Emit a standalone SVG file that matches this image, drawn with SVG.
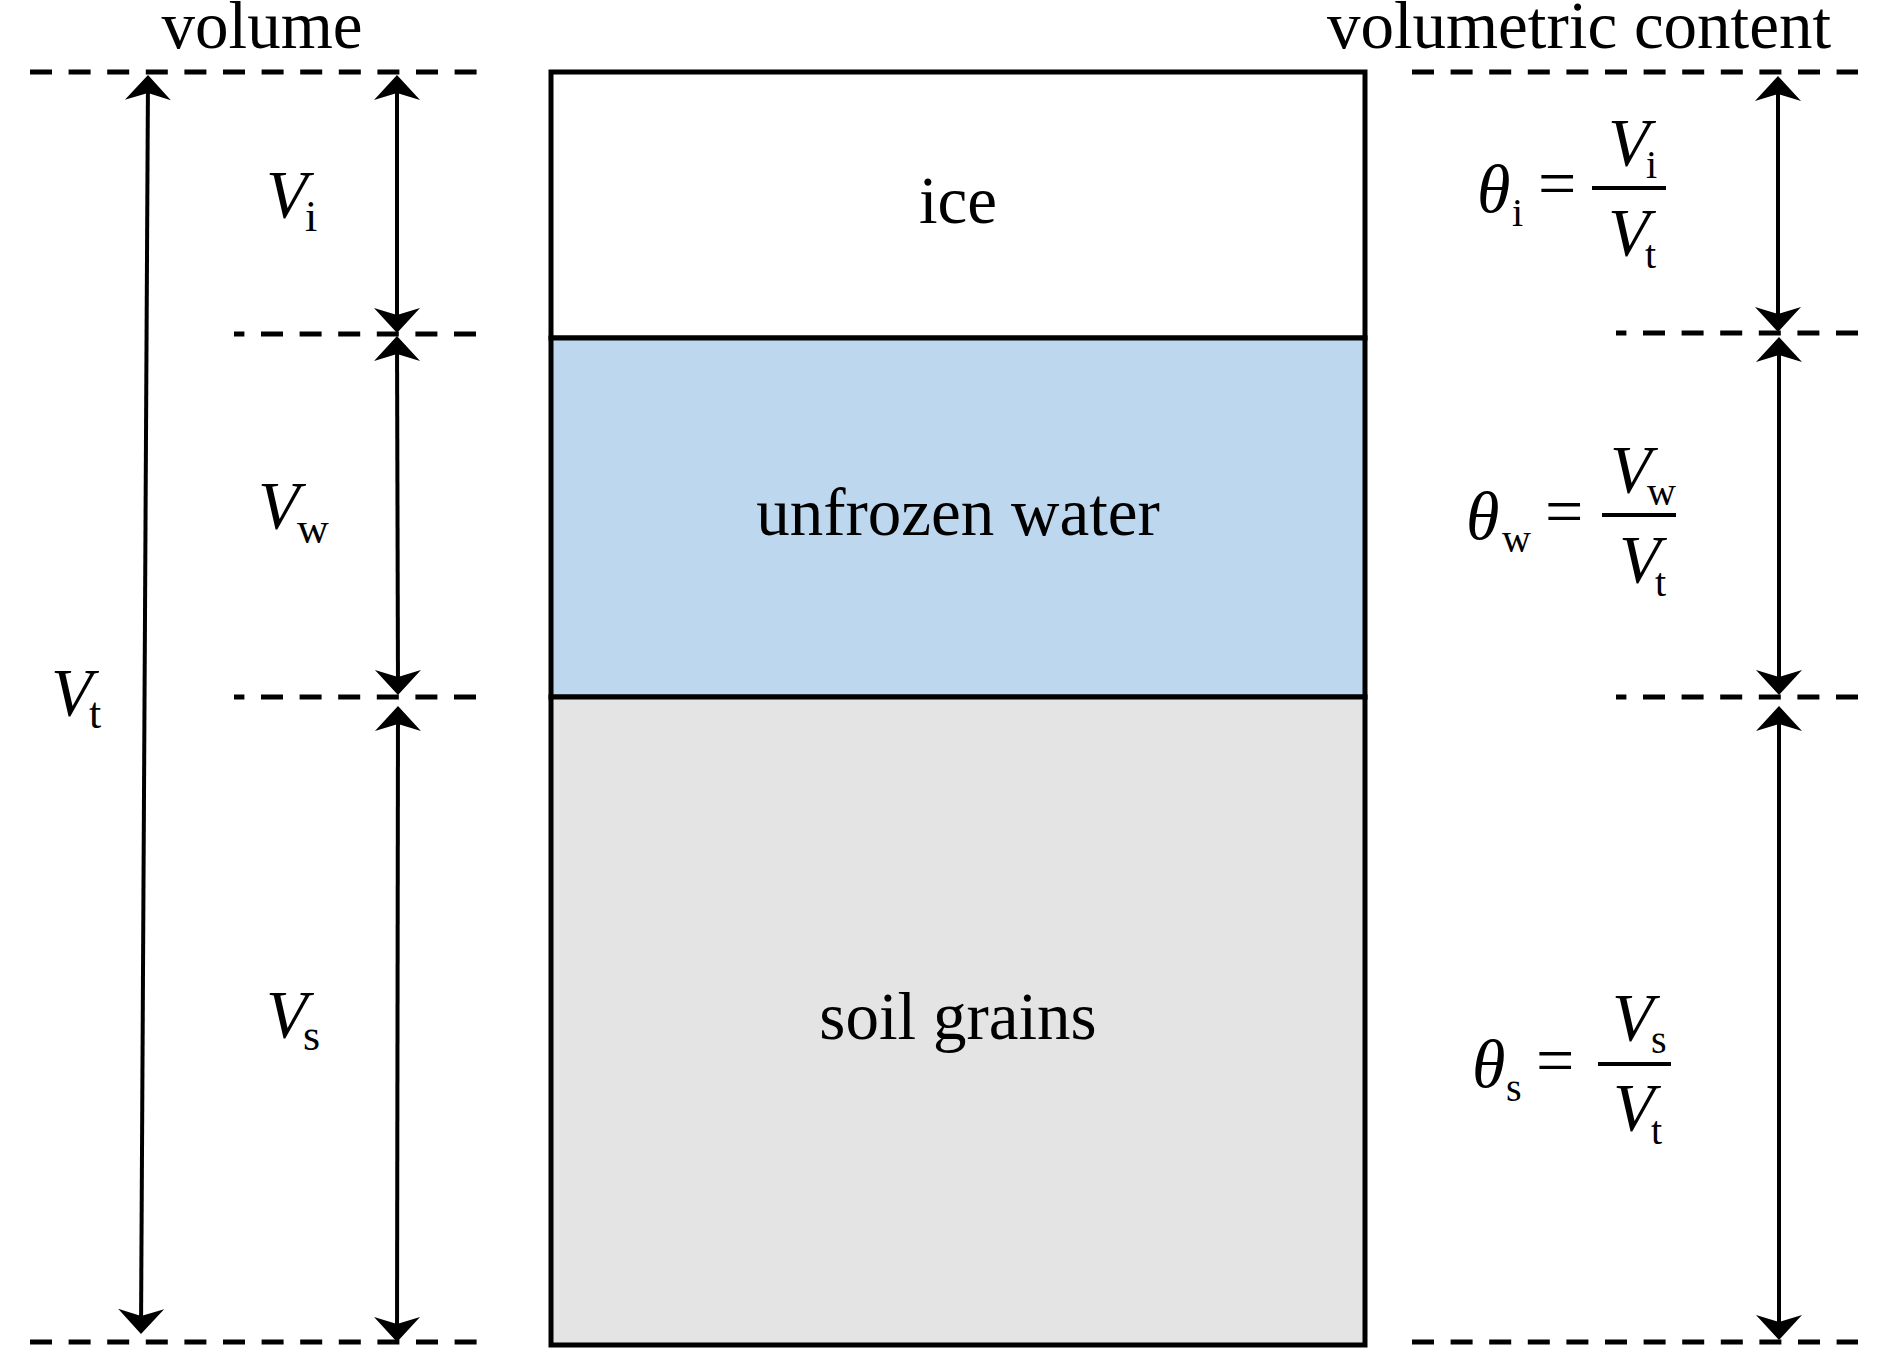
<svg xmlns="http://www.w3.org/2000/svg" width="1890" height="1348" viewBox="0 0 1890 1348">
<style>
.t{font-family:"Liberation Serif","Times New Roman",serif;fill:#000}
.lbl{font-size:67px}
.v{font-size:68px;font-style:italic}
.m{font-size:68px}
.sl{font-size:44px}
.sr{font-size:40px}
.dash{stroke:#000;stroke-width:5;stroke-dasharray:22 16.6;fill:none}
.dash2{stroke:#000;stroke-width:5;stroke-dasharray:22 16.6;stroke-dashoffset:11.6;fill:none}
.arr{stroke:#000;stroke-width:4;fill:none;marker-start:url(#ah);marker-end:url(#ah)}
.bar{stroke:#000;stroke-width:4}
</style>
<defs>
<marker id="ah" markerUnits="userSpaceOnUse" viewBox="-30 -30 60 60" markerWidth="60" markerHeight="60" refX="0" refY="0" orient="auto-start-reverse" overflow="visible">
<path d="M3,0 L-22,-23 L-15,0 L-22,23 Z" fill="#000"/>
</marker>
</defs>
<rect width="1890" height="1348" fill="#fff"/>

<g id="headers">
<text class="t lbl" x="262" y="48" text-anchor="middle">volume</text>
<text class="t lbl" x="1579" y="48" text-anchor="middle">volumetric content</text>
</g>

<g id="ice">
<rect x="551" y="72" width="814" height="266" fill="#ffffff" stroke="#000" stroke-width="5"/>
<text class="t lbl" x="958" y="223" text-anchor="middle">ice</text>
</g>
<g id="water">
<rect x="551" y="338" width="814" height="359" fill="#BDD7EE" stroke="#000" stroke-width="5"/>
<text class="t lbl" x="958" y="535" text-anchor="middle">unfrozen water</text>
</g>
<g id="soil">
<rect x="551" y="697" width="814" height="648" fill="#E4E4E4" stroke="#000" stroke-width="5"/>
<text class="t lbl" x="958" y="1039" text-anchor="middle">soil grains</text>
</g>

<g id="guides">
<line class="dash" x1="30" y1="72" x2="477" y2="72"/>
<line class="dash2" x1="234" y1="334" x2="477" y2="334"/>
<line class="dash2" x1="234" y1="697" x2="477" y2="697"/>
<line class="dash" x1="30" y1="1342" x2="477" y2="1342"/>
<line class="dash" x1="1412" y1="72" x2="1858" y2="72"/>
<line class="dash2" x1="1616" y1="333" x2="1858" y2="333"/>
<line class="dash2" x1="1616" y1="697" x2="1858" y2="697"/>
<line class="dash" x1="1412" y1="1342" x2="1858" y2="1342"/>
</g>

<g id="connectors">
<line class="arr" x1="148" y1="78" x2="141" y2="1331"/>
<line class="arr" x1="397" y1="78" x2="397" y2="330"/>
<line class="arr" x1="397" y1="339" x2="398" y2="692"/>
<line class="arr" x1="398" y1="709" x2="397" y2="1339"/>
<line class="arr" x1="1778" y1="79" x2="1778" y2="329"/>
<line class="arr" x1="1779" y1="340" x2="1779" y2="692"/>
<line class="arr" x1="1779" y1="709" x2="1779" y2="1337"/>
</g>

<g id="label-Vi">
<text class="t v" x="266" y="217">V</text>
<text class="t sl" x="305" y="231">i</text>
</g>
<g id="label-Vw">
<text class="t v" x="258" y="528">V</text>
<text class="t sl" x="297" y="543">w</text>
</g>
<g id="label-Vt">
<text class="t v" x="51" y="715">V</text>
<text class="t sl" x="89" y="728">t</text>
</g>
<g id="label-Vs">
<text class="t v" x="266" y="1037">V</text>
<text class="t sl" x="303" y="1050">s</text>
</g>

<g id="formula-i">
<text class="t v" x="1477" y="212">θ</text>
<text class="t sr" x="1512" y="226">i</text>
<text class="t m" x="1538" y="206">=</text>
<line class="bar" x1="1592" y1="188" x2="1666" y2="188"/>
<text class="t v" x="1608" y="165">V</text>
<text class="t sr" x="1646" y="178">i</text>
<text class="t v" x="1608" y="255">V</text>
<text class="t sr" x="1645" y="268">t</text>
</g>
<g id="formula-w">
<text class="t v" x="1466" y="539">θ</text>
<text class="t sr" x="1502" y="552">w</text>
<text class="t m" x="1545" y="534">=</text>
<line class="bar" x1="1602" y1="515" x2="1676" y2="515"/>
<text class="t v" x="1610" y="492">V</text>
<text class="t sr" x="1647" y="505">w</text>
<text class="t v" x="1619" y="582">V</text>
<text class="t sr" x="1655" y="596">t</text>
</g>
<g id="formula-s">
<text class="t v" x="1472" y="1087">θ</text>
<text class="t sr" x="1506" y="1101">s</text>
<text class="t m" x="1536" y="1083">=</text>
<line class="bar" x1="1598" y1="1064" x2="1671" y2="1064"/>
<text class="t v" x="1612" y="1040">V</text>
<text class="t sr" x="1651" y="1053">s</text>
<text class="t v" x="1613" y="1130">V</text>
<text class="t sr" x="1651" y="1144">t</text>
</g>
</svg>
